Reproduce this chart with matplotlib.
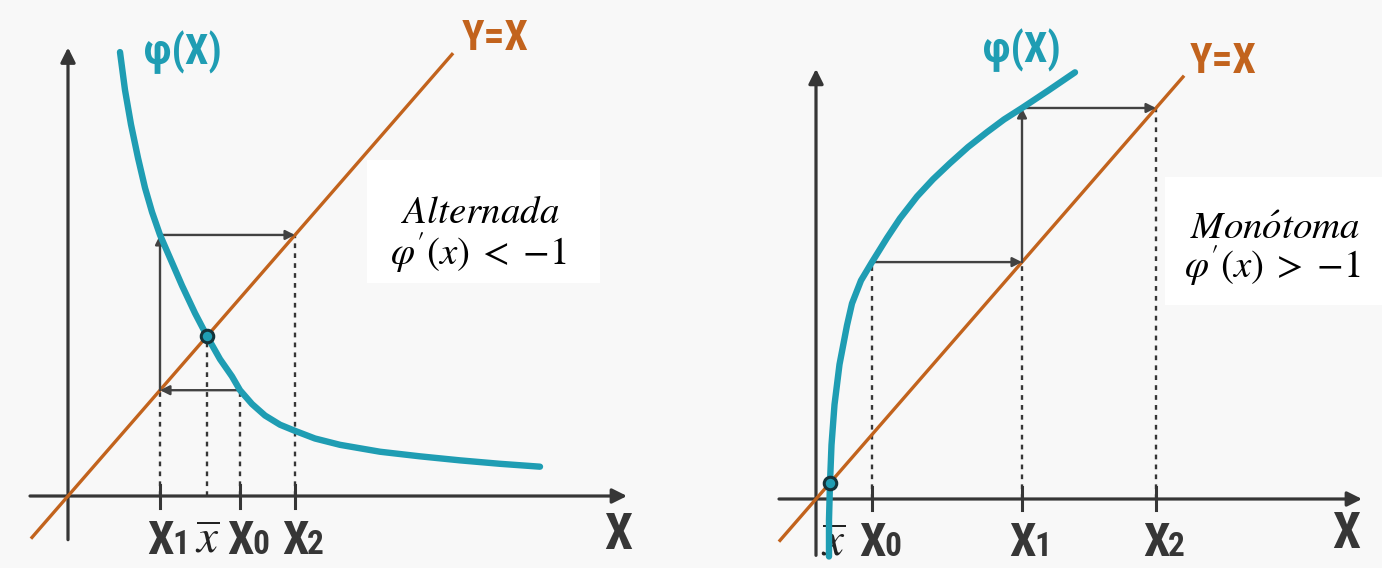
import matplotlib.pyplot as plt
from matplotlib import font_manager
from matplotlib.patches import Rectangle

# --- iteracion alternada: phi decreciente, phi'(x) < -1 ---
alt_phi_x = [0.52, 0.57, 0.63, 0.70, 0.77, 0.84, 0.92, 1.02, 1.14, 1.27, 1.39, 1.52,
             1.64, 1.72, 1.84, 1.97, 2.12, 2.26, 2.47, 2.72, 3.12, 3.52, 3.92, 4.32, 4.72]
alt_phi_y = [3.86, 3.53, 3.23, 2.94, 2.68, 2.47, 2.27, 2.07, 1.83, 1.59, 1.39, 1.19,
             1.04, 0.92, 0.80, 0.70, 0.62, 0.57, 0.50, 0.445, 0.385, 0.345, 0.31, 0.28, 0.255]
alt_x0, alt_x1, alt_x2, alt_xbar = 1.72, 0.92, 2.27, 1.39
alt_line = [-0.36, 3.84]

# --- iteracion monotona: phi creciente ---
mon_phi_x = [0.13, 0.13, 0.14, 0.155, 0.185, 0.235, 0.31, 0.36, 0.45, 0.56, 0.71, 0.84,
             1.01, 1.17, 1.34, 1.52, 1.71, 1.88, 2.06, 2.32, 2.59]
mon_phi_y = [-0.50, -0.18, 0.14, 0.47, 0.82, 1.17, 1.51, 1.70, 1.90, 2.06, 2.27, 2.44,
             2.63, 2.78, 2.92, 3.06, 3.19, 3.30, 3.40, 3.55, 3.71]
mon_x0, mon_x1, mon_x2, mon_xbar = 0.56, 2.06, 3.40, 0.14
mon_line = [-0.36, 3.67]

TEAL = "#1f9db3"
ORANGE = "#c2631d"
DARK = "#363636"
GRAY = "#424242"

# fuente estrecha para las etiquetas de los ejes, si hay alguna
names = {f.name for f in font_manager.fontManager.ttflist}
LABEL_FONT = dict(family="Roboto", fontweight="bold")
for cand in ("Liberation Sans Narrow", "Roboto Condensed", "DejaVu Sans Condensed"):
    if cand in names:
        LABEL_FONT = dict(family=cand, fontweight="bold")
        break
plt.rcParams["mathtext.fontset"] = "stix"

fig = plt.figure(figsize=(13.82, 5.68), dpi=100)
fig.patch.set_facecolor("#f8f8f8")

# recuadros blancos bajo las formulas
for box in ((0.2656, 0.502, 0.1686, 0.2165), (0.843, 0.463, 0.157, 0.225)):
    fig.patches.append(Rectangle(box[:2], box[2], box[3], transform=fig.transFigure,
                                 facecolor="white", edgecolor="none", zorder=-5))


def arrow(ax, start, end, lw=1.7, color=GRAY, ms=14):
    ax.annotate("", xy=end, xytext=start,
                arrowprops=dict(arrowstyle="-|>", color=color, lw=lw,
                                mutation_scale=ms, shrinkA=0, shrinkB=0))


def sub_label(ax, x, y, sub):
    ax.text(x, y, "X", ha="center", va="baseline", fontsize=34, color=DARK, **LABEL_FONT)
    ax.text(x + 0.12, y, sub, ha="left", va="baseline", fontsize=24, color=DARK, **LABEL_FONT)


def panel(ax, phi_x, phi_y, line, x0, x1, x2, xbar, xaxis, yaxis):
    ax.set_facecolor("none")
    ax.axis("off")
    # ejes
    arrow(ax, (xaxis[0], 0), (xaxis[1], 0), lw=2.3, color=DARK, ms=22)
    arrow(ax, (0, yaxis[0]), (0, yaxis[1]), lw=2.3, color=DARK, ms=22)
    # y = x
    ax.plot(line, line, color=ORANGE, lw=2.4, zorder=3)
    # phi(x)
    ax.plot(phi_x, phi_y, color=TEAL, lw=4.6, solid_capstyle="round",
            solid_joinstyle="round", zorder=4)
    # lineas punteadas hasta el eje
    dash = dict(color=DARK, lw=1.7, linestyle=(0, (2.0, 2.2)), zorder=2)
    ax.plot([x0, x0], [0, x1], **dash)
    ax.plot([x1, x1], [0, x1], **dash)
    ax.plot([x2, x2], [0, x2], **dash)
    ax.plot([xbar, xbar], [0, xbar], **dash)
    for t in (x0, x1, x2):
        ax.plot([t, t], [-0.1, 0.1], color=DARK, lw=2.2, zorder=3)
    # telaraña
    arrow(ax, (x0, x1), (x1, x1))
    arrow(ax, (x1, x1), (x1, x2))
    arrow(ax, (x1, x2), (x2, x2))
    ax.plot(xbar, xbar, "o", ms=9, mfc=TEAL, mec="#14333a", mew=2.2, zorder=6)
    # etiquetas
    lab_y = -0.5
    sub_label(ax, x0, lab_y, "0")
    sub_label(ax, x1, lab_y, "1")
    sub_label(ax, x2, lab_y, "2")


# ---------- panel izquierdo ----------
ax_l = fig.add_axes([0, 0, 0.5, 1])
ax_l.set_xlim(-0.68, 6.23)
ax_l.set_ylim(-0.626, 4.313)
panel(ax_l, alt_phi_x, alt_phi_y, alt_line, alt_x0, alt_x1, alt_x2, alt_xbar,
      (-0.38, 5.59), (-0.38, 3.90))
ax_l.text(alt_xbar, -0.5, r"$\overline{x}$", ha="center", va="baseline", fontsize=34, color="#222222")
ax_l.text(1.15, 3.86, "φ(X)", ha="center", va="center", fontsize=30, color=TEAL, **LABEL_FONT)
ax_l.text(4.27, 3.98, "Y=X", ha="center", va="center", fontsize=30, color=ORANGE, **LABEL_FONT)
ax_l.text(5.50, -0.34, "X", ha="center", va="center", fontsize=36, color=DARK, **LABEL_FONT)
ax_l.text(4.12, 2.47, r"$Alternada$", ha="center", va="center", fontsize=28)
ax_l.text(4.10, 2.12, r"$\varphi'(x)\;<\;{-1}$", ha="center", va="center", fontsize=28)

# ---------- panel derecho ----------
ax_r = fig.add_axes([0.5, 0, 0.5, 1])
ax_r.set_xlim(-1.25, 5.66)
ax_r.set_ylim(-0.6, 4.339)
panel(ax_r, mon_phi_x, mon_phi_y, mon_line, mon_x0, mon_x1, mon_x2, mon_xbar,
      (-0.37, 5.46), (-0.49, 3.74))
ax_r.text(mon_xbar + 0.03, -0.5, r"$\overline{x}$", ha="center", va="baseline", fontsize=34, color="#222222")
ax_r.text(2.06, 3.90, "φ(X)", ha="center", va="center", fontsize=30, color=TEAL, **LABEL_FONT)
ax_r.text(4.07, 3.80, "Y=X", ha="center", va="center", fontsize=30, color=ORANGE, **LABEL_FONT)
ax_r.text(5.30, -0.31, "X", ha="center", va="center", fontsize=36, color=DARK, **LABEL_FONT)
ax_r.text(4.59, 2.36, r"$Mon\acute{o}toma$", ha="center", va="center", fontsize=28)
ax_r.text(4.56, 2.03, r"$\varphi'(x)\;>\;{-1}$", ha="center", va="center", fontsize=28)

fig.savefig("out.png", dpi=100, facecolor=fig.get_facecolor())
